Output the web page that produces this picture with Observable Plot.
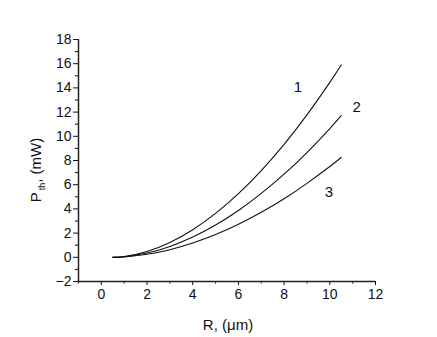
<!DOCTYPE html>
<html>
<head>
<meta charset="utf-8">
<script src="https://cdn.jsdelivr.net/npm/d3@7"></script>
<script src="https://cdn.jsdelivr.net/npm/@observablehq/plot@0.6"></script>
<style>
  html, body { margin: 0; padding: 0; background: #fff; }
  svg { font-family: "Liberation Sans", Arial, sans-serif; }
</style>
</head>
<body>
<div id="chart"></div>
<script>
const R = [0.5, 1, 2, 3, 4, 5, 6, 7, 8, 9, 10, 10.5];
const curve1 = [0, 0.06, 0.48, 1.22, 2.28, 3.63, 5.26, 7.17, 9.34, 11.77, 14.46, 15.9];
const curve2 = [0, 0.05, 0.35, 0.90, 1.68, 2.67, 3.87, 5.28, 6.87, 8.66, 10.64, 11.7];
const curve3 = [0, 0.03, 0.25, 0.63, 1.18, 1.88, 2.73, 3.72, 4.84, 6.11, 7.50, 8.25];
const curveLabels = ["1", "2", "3"];
const labelX = [8.6, 11.18, 9.96];
const labelY = [14.05, 12.4, 5.37];
const xMajor = [0, 2, 4, 6, 8, 10, 12];
const xMinor = [-1, 1, 3, 5, 7, 9, 11];
const yMajor = [-2, 0, 2, 4, 6, 8, 10, 12, 14, 16, 18];
const yMinor = [-1, 1, 3, 5, 7, 9, 11, 13, 15, 17];

const series = [curve1, curve2, curve3];
const data = series.flatMap((s, i) => R.map((r, j) => ({R: r, P: s[j], id: curveLabels[i]})));
const labels = curveLabels.map((t, i) => ({x: labelX[i], y: labelY[i], t}));

const plot = Plot.plot({
  width: 437,
  height: 337,
  marginLeft: 78,
  marginRight: 62,
  marginTop: 39,
  marginBottom: 56,
  style: {fontSize: "14px", fontFamily: "'Liberation Sans', Arial, sans-serif", color: "#111"},
  x: {domain: [-1, 12]},
  y: {domain: [-2, 18]},
  marks: [
    Plot.axisX({ticks: xMajor, tickSize: 4, tickPadding: 4, label: null, fontSize: 14}),
    Plot.axisX({ticks: xMinor, tickSize: 2.5, text: null, label: null}),
    Plot.axisY({ticks: yMajor, tickSize: 5, tickPadding: 2, label: null, fontSize: 14}),
    Plot.axisY({ticks: yMinor, tickSize: 3, text: null, label: null}),
    Plot.ruleX([-1], {stroke: "#222", strokeWidth: 1.5}),
    Plot.ruleY([-2], {stroke: "#222", strokeWidth: 1.5}),
    Plot.line(data, {x: "R", y: "P", z: "id", stroke: "#111", strokeWidth: 1.1, curve: "natural"}),
    Plot.text(labels, {x: "x", y: "y", text: "t", fontSize: 15, fill: "#111"})
  ]
});

const svg = d3.select(plot);
// y-axis label with subscript
const yl = svg.append("text")
  .attr("transform", "translate(41,170) rotate(-90)")
  .attr("text-anchor", "middle")
  .attr("font-size", 15)
  .attr("fill", "#111");
yl.append("tspan").text("P");
yl.append("tspan").attr("font-size", 9).attr("dx", 2).attr("dy", 4).text("th");
yl.append("tspan").attr("dy", -4).text(", (mW)");
// x-axis label
svg.append("text")
  .attr("x", 228).attr("y", 330)
  .attr("text-anchor", "middle")
  .attr("font-size", 15)
  .attr("fill", "#111")
  .text("R, (\u03bcm)");

document.getElementById("chart").appendChild(plot);
</script>
</body>
</html>
